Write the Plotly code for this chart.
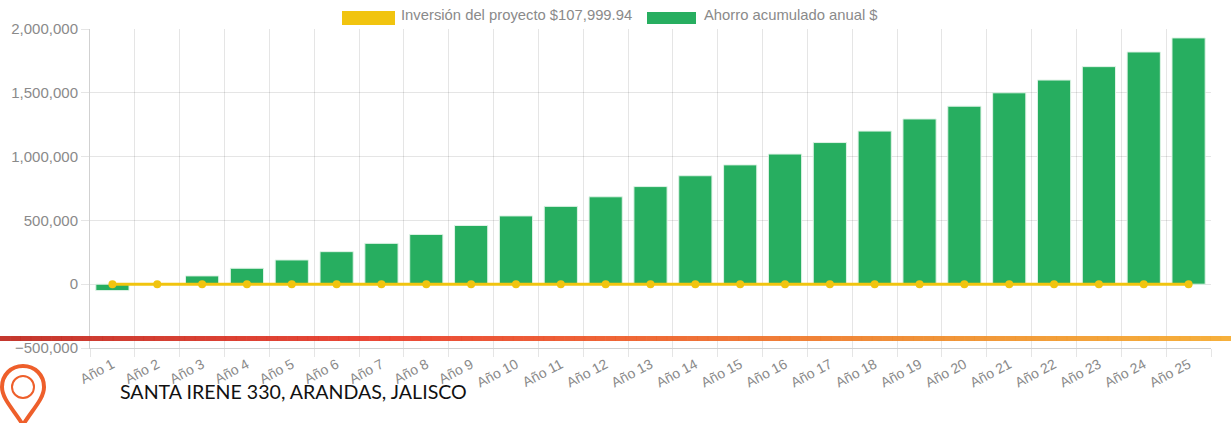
import plotly.graph_objects as go

YEARS = ["Año %d" % i for i in range(1, 26)]
SAVINGS = [-50000, 5000, 65000, 125000, 190000, 255000, 320000, 390000, 460000, 535000,
           610000, 685000, 765000, 850000, 935000, 1020000, 1110000, 1200000, 1295000, 1395000,
           1500000, 1600000, 1705000, 1820000, 1930000]
INVESTMENT = [0] * 25
LEGEND_INV = "Inversión del proyecto $107,999.94"
LEGEND_SAV = "Ahorro acumulado anual $"
ADDRESS = "SANTA IRENE 330, ARANDAS, JALISCO"

W, H = 1231, 423
L, R, T, B = 90, 20, 29, 75
GREEN = "#27ae60"
YELLOW = "#f1c40f"
GREY = "#8a8a8a"

def px(x): return (x - L) / (W - L - R)
def py(y): return 1 - (y - T) / (H - T - B)

fig = go.Figure()
fig.add_trace(go.Bar(x=YEARS, y=SAVINGS, width=0.74, name=LEGEND_SAV, showlegend=False,
                     marker=dict(color=GREEN, line=dict(color="#dff3e6", width=1))))
fig.add_trace(go.Scatter(x=YEARS, y=INVESTMENT, mode="lines+markers", name=LEGEND_INV, showlegend=False,
                         line=dict(color=YELLOW, width=3), marker=dict(color=YELLOW, size=8)))

shapes = []
stops = [(0, (192, 40, 30)), (0.3, (232, 58, 40)), (0.5, (238, 90, 40)), (0.75, (239, 138, 42)), (1, (245, 170, 45))]
n = 120
for i in range(n):
    t = i / (n - 1)
    for (a, ca), (b, cb) in zip(stops, stops[1:]):
        if a <= t <= b:
            f = (t - a) / (b - a)
            c = [round(u + (v - u) * f) for u, v in zip(ca, cb)]
            break
    shapes.append(dict(type="rect", xref="paper", yref="paper",
                       x0=px(i * W / n), x1=px((i + 1) * W / n + 0.5), y0=py(341), y1=py(336),
                       fillcolor="rgba(%d,%d,%d,0.93)" % tuple(c), line=dict(width=0), layer="above"))
for x0, x1, y0, y1, c in [(342, 395, 11, 25, YELLOW), (647, 696, 12, 24, GREEN)]:
    shapes.append(dict(type="rect", xref="paper", yref="paper", x0=px(x0), x1=px(x1), y0=py(y1), y1=py(y0),
                       fillcolor=c, line=dict(width=0)))

def pt(x, y): return "%.5f %.5f" % (px(x), py(y))
ORANGE = "#ee5f2b"
pin = ("M " + pt(23, 425) + " C " + pt(14, 410) + " " + pt(2, 399) + " " + pt(2, 387)
       + " C " + pt(2, 375) + " " + pt(11, 366) + " " + pt(23, 366)
       + " C " + pt(35, 366) + " " + pt(44, 375) + " " + pt(44, 387)
       + " C " + pt(44, 399) + " " + pt(32, 410) + " " + pt(23, 425) + " Z")
shapes.append(dict(type="path", xref="paper", yref="paper", path=pin, line=dict(color=ORANGE, width=4)))
shapes.append(dict(type="circle", xref="paper", yref="paper", x0=px(12), x1=px(34), y0=py(398), y1=py(376),
                   line=dict(color=ORANGE, width=2)))

annotations = [
    dict(text=LEGEND_INV, x=px(399), y=py(15), xref="paper", yref="paper", xanchor="left", yanchor="middle",
         showarrow=False, font=dict(family="Liberation Sans", size=14.8, color=GREY)),
    dict(text=LEGEND_SAV, x=px(702), y=py(15), xref="paper", yref="paper", xanchor="left", yanchor="middle",
         showarrow=False, font=dict(family="Liberation Sans", size=14.8, color=GREY)),
    dict(text=ADDRESS, x=px(118), y=py(391), xref="paper", yref="paper", xanchor="left", yanchor="middle",
         showarrow=False, font=dict(family="Lato", size=19.6, color="#111111")),
]

fig.update_layout(
    width=W, height=H, autosize=False, margin=dict(l=L, r=R, t=T, b=B, pad=0),
    plot_bgcolor="white", paper_bgcolor="white", showlegend=False, shapes=shapes, annotations=annotations,
    font=dict(family="Liberation Sans", color=GREY, size=13),
    xaxis=dict(type="category", range=[-0.5, 24.5], tickson="boundaries", showgrid=True, gridcolor="rgba(0,0,0,0.1)", gridwidth=1,
               ticks="outside", ticklen=8, tickcolor="rgba(0,0,0,0.1)", tickangle=-28, ticklabelstandoff=2, showline=True,
               linecolor="rgba(0,0,0,0.18)", tickfont=dict(size=14, color=GREY)),
    yaxis=dict(range=[-500000, 2000000], dtick=500000, tickformat=",", showgrid=True, gridcolor="rgba(0,0,0,0.1)",
               ticks="outside", ticklen=8, tickcolor="rgba(0,0,0,0.1)", showline=True, zeroline=False,
               linecolor="rgba(0,0,0,0.18)", tickfont=dict(size=15, color=GREY)),
)
fig.write_html("out.html", config=dict(displayModeBar=False),
               post_script="document.body.style.margin='0';document.body.style.overflow='hidden';")
